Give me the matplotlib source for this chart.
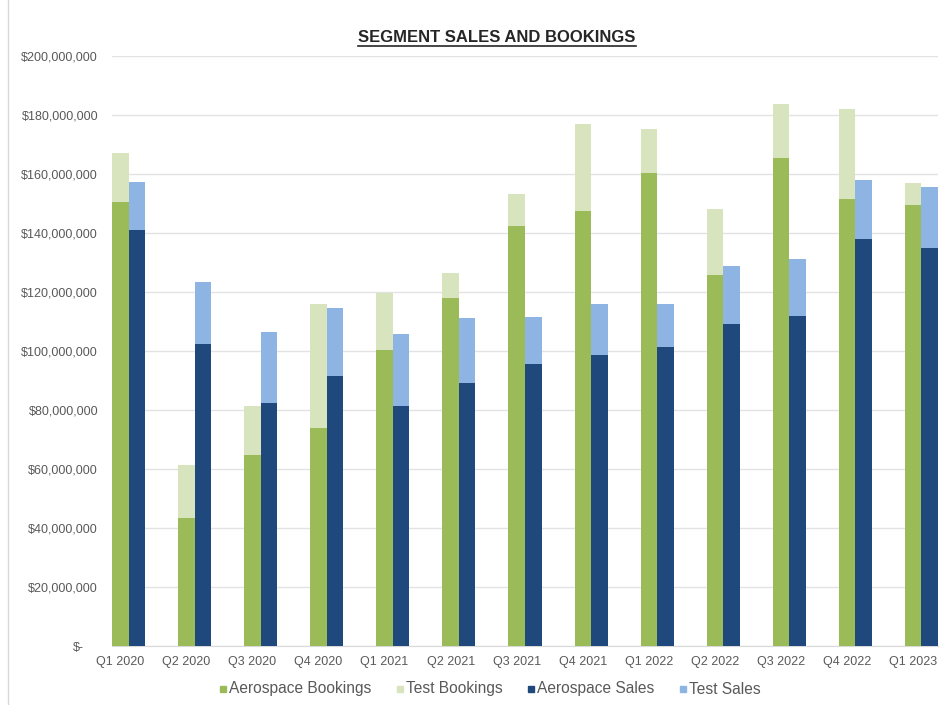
import numpy as np
import matplotlib
matplotlib.use("Agg")
import matplotlib.pyplot as plt
from matplotlib.patches import Rectangle
from matplotlib.lines import Line2D
from matplotlib.ticker import FuncFormatter
from matplotlib.transforms import ScaledTranslation

plt.rcParams['font.family'] = ['Liberation Sans', 'DejaVu Sans']

quarters = ['Q1 2020', 'Q2 2020', 'Q3 2020', 'Q4 2020', 'Q1 2021', 'Q2 2021', 'Q3 2021',
            'Q4 2021', 'Q1 2022', 'Q2 2022', 'Q3 2022', 'Q4 2022', 'Q1 2023']

# values in $ millions
aero_bookings = [150.6, 43.3, 64.7, 73.8, 100.3, 117.9, 142.4, 147.5, 160.4, 125.8, 165.3, 151.5, 149.5]
total_bookings = [167.0, 61.4, 81.4, 115.8, 119.8, 126.3, 153.2, 177.0, 175.3, 148.1, 183.7, 181.9, 157.1]
aero_sales = [141.0, 102.3, 82.3, 91.6, 81.4, 89.0, 95.6, 98.6, 101.2, 109.0, 112.0, 138.0, 134.8]
total_sales = [157.4, 123.5, 106.3, 114.5, 105.7, 111.1, 111.6, 115.9, 115.9, 128.9, 131.1, 158.0, 155.7]

series_names = ['Aerospace Bookings', 'Test Bookings', 'Aerospace Sales', 'Test Sales']

aero_bookings = np.array(aero_bookings) * 1e6
test_bookings = np.array(total_bookings) * 1e6 - aero_bookings
aero_sales = np.array(aero_sales) * 1e6
test_sales = np.array(total_sales) * 1e6 - aero_sales

c_ab = '#9BBB59'
c_tb = '#D7E4BD'
c_as = '#1F497D'
c_ts = '#8EB4E3'
colors = [c_ab, c_tb, c_as, c_ts]
txt = '#595959'

W, H = 953, 705
fig = plt.figure(figsize=(W/100, H/100), dpi=100)
ax = fig.add_axes([112/W, 1 - 646/H, (938 - 112)/W, (646 - 56)/H])

x = np.arange(len(quarters))
w = 0.25
ax.bar(x, aero_bookings, w, color=c_ab, zorder=3)
ax.bar(x, test_bookings, w, bottom=aero_bookings, color=c_tb, zorder=3)
ax.bar(x + w, aero_sales, w, color=c_as, zorder=3)
ax.bar(x + w, test_sales, w, bottom=aero_sales, color=c_ts, zorder=3)

ax.set_xlim(-0.125, 12.375)
ax.set_ylim(0, 200e6)
ax.set_yticks(np.arange(0, 200e6 + 1, 20e6))
ax.yaxis.set_major_formatter(FuncFormatter(lambda v, p: '$-' if v == 0 else '${:,.0f}'.format(v)))
ax.set_xticks(x)
ax.set_xticklabels(quarters)
ax.tick_params(axis='y', length=0, pad=10, labelsize=9, labelcolor=txt)
ax.tick_params(axis='x', length=0, pad=7, labelsize=9, labelcolor=txt)
ax.grid(axis='y', color='#E3E3E3', linewidth=1, zorder=0)
for s in ['top', 'right', 'left']:
    ax.spines[s].set_visible(False)
ax.spines['bottom'].set_color('#D9D9D9')

# zero label sits a little left (accounting format)
zl = ax.get_yticklabels()[0]
zl.set_transform(zl.get_transform() + ScaledTranslation(-10/72, 0, fig.dpi_scale_trans))

title = fig.text(497/W, 1 - 37/H, 'SEGMENT SALES AND BOOKINGS', ha='center', va='center',
                 fontsize=12, fontweight='bold', color='#262626')
renderer = fig.canvas.get_renderer()
bb = title.get_window_extent(renderer).transformed(fig.transFigure.inverted())
fig.add_artist(Line2D([bb.x0, bb.x1], [bb.y0 - 0.002, bb.y0 - 0.002], color='#262626', lw=1.2,
                      transform=fig.transFigure))

# chart frame edge on the left
fig.add_artist(Line2D([8/W, 8/W], [0, 1], color='#D9D9D9', lw=1, transform=fig.transFigure))

# legend laid out by hand so all labels share one baseline
px = 220.0
for name, col in zip(series_names, colors):
    fig.add_artist(Rectangle((px/W, 1 - 692/H), 6/W, 6/H, color=col, transform=fig.transFigure))
    t = fig.text((px + 9.5)/W, 1 - 693.5/H, name, ha='left', va='baseline',
                 fontsize=11.2, color=txt)
    tw = t.get_window_extent(renderer).width
    px = px + 9.5 + tw + 25

fig.savefig('out.png', dpi=100)
